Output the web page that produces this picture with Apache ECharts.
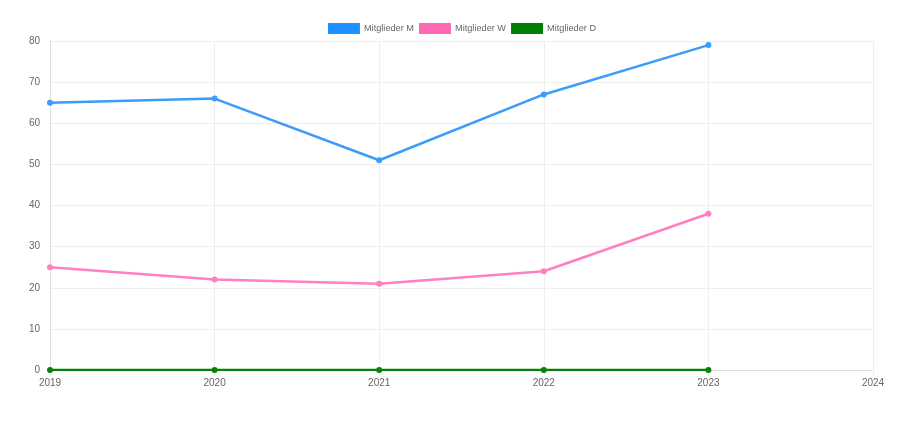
<!DOCTYPE html>
<html><head><meta charset="utf-8">
<script src="https://cdn.jsdelivr.net/npm/echarts@6/dist/echarts.min.js"></script>
<style>html,body{margin:0;padding:0;background:#fff}#c{width:924px;height:422px}</style>
</head><body><div id="c"></div>
<script>
const years = ['2019','2020','2021','2022','2023','2024'];
const seriesNames = ['Mitglieder M','Mitglieder W','Mitglieder D'];
const valuesM = [65, 66, 51, 67, 79, null];
const valuesW = [25, 22, 21, 24, 38, null];
const valuesD = [0, 0, 0, 0, 0, null];
const lineColors = ['#3d9cf9', '#ff80c2', '#0a800a'];
const legendColors = ['#1e90ff', '#ff69b4', '#008000'];

const chart = echarts.init(document.getElementById('c'));
const data = [valuesM, valuesW, valuesD];
chart.setOption({
  animation: false,
  legend: {
    top: 18, left: 'center', itemWidth: 32, itemHeight: 11, itemGap: 5,
    textStyle: {color: '#666', fontSize: 9.2, fontFamily: 'Arial, Liberation Sans', padding: [0,0,0,-1]},
    icon: 'rect',
    data: seriesNames.map((n, i) => ({name: n, itemStyle: {color: legendColors[i]}}))
  },
  grid: {left: 50, right: 51, top: 41, bottom: 52},
  xAxis: {
    type: 'category', data: years, boundaryGap: false,
    axisLine: {lineStyle: {color: '#ddd'}},
    axisTick: {show: true, length: 6, lineStyle: {color: '#eee'}},
    axisLabel: {color: '#666', fontSize: 10, margin: 8, fontFamily: 'Arial, Liberation Sans'},
    splitLine: {show: true, lineStyle: {color: '#eee'}}
  },
  yAxis: {
    type: 'value', min: 0, max: 80, interval: 10,
    axisLine: {show: true, lineStyle: {color: '#ddd'}},
    axisTick: {show: false},
    axisLabel: {color: '#666', fontSize: 10, margin: 10, fontFamily: 'Arial, Liberation Sans'},
    splitLine: {lineStyle: {color: '#eee'}}
  },
  series: seriesNames.map((n, i) => ({
    name: n, type: 'line', data: data[i],
    symbol: 'circle', symbolSize: 6, showSymbol: true,
    lineStyle: {width: 2.5, color: lineColors[i]},
    itemStyle: {color: lineColors[i]}
  }))
});
</script></body></html>
